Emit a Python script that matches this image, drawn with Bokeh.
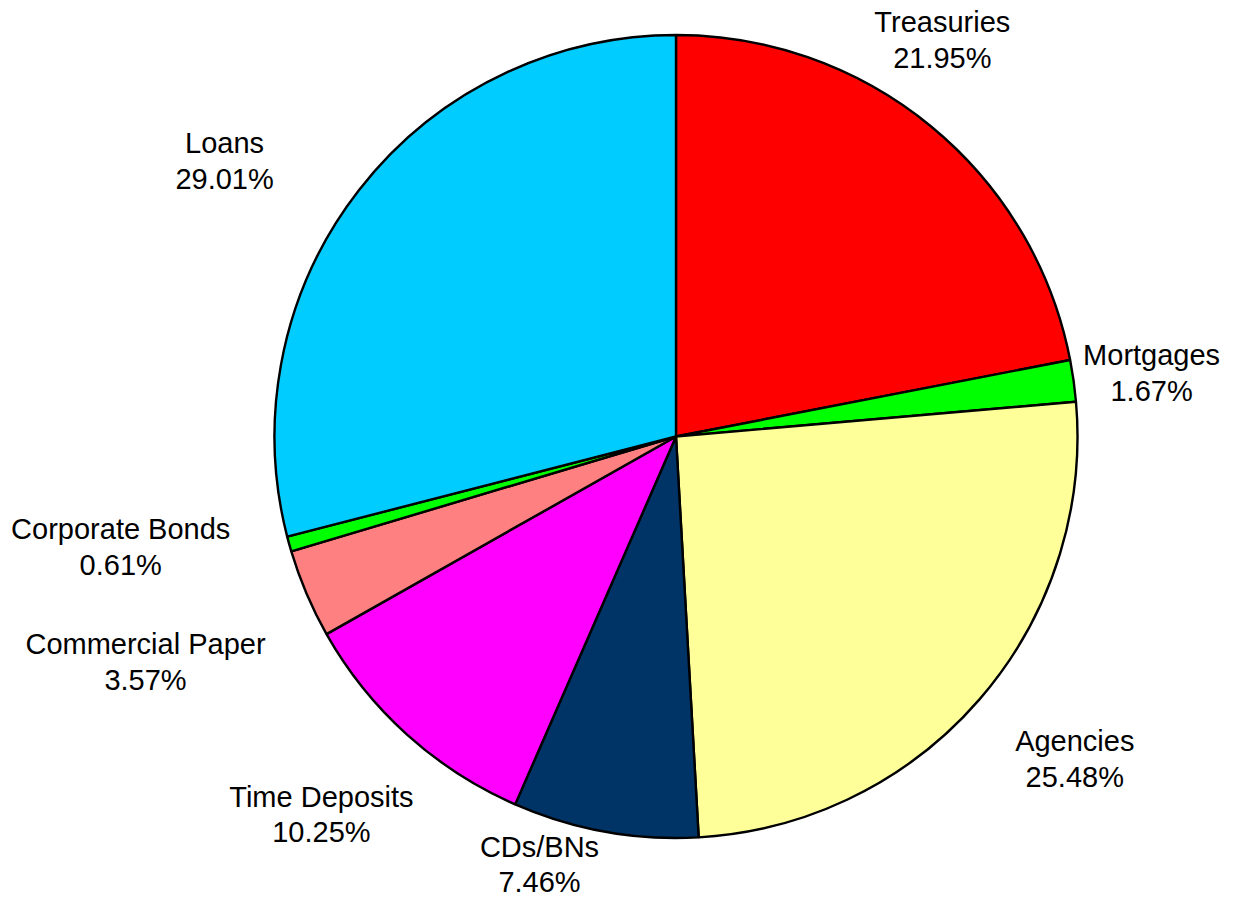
import numpy as np
from bokeh.plotting import figure
from bokeh.models import Range1d, ColumnDataSource
from bokeh.core.properties import value
from bokeh.embed import file_html
from bokeh.resources import INLINE

# ---- data ----
categories = ["Treasuries", "Mortgages", "Agencies", "CDs/BNs", "Time Deposits",
              "Commercial Paper", "Corporate Bonds", "Loans"]
shares = [21.95, 1.67, 25.48, 7.46, 10.25, 3.57, 0.61, 29.01]
colors = ["#FF0000", "#00FF00", "#FFFF99", "#003366", "#FF00FF",
          "#FF8080", "#00FF00", "#00CCFF"]

# ---- layout (label placement relative to each slice's mid-angle) ----
label_angle_nudge_deg = [5.6, -0.4, 1.9, -7.5, -1.1, 0.0, -4.3, 6.4]
label_radius_factor = [1.189, 1.195, 1.278, 1.119, 1.291, 1.436, 1.410, 1.317]

W, H = 1222, 901
cx, cy, R = 675.5, 917 - 436, 401.5

vals = np.array(shares, dtype=float)
frac = vals / vals.sum()
cum = np.concatenate([[0], np.cumsum(frac)])
start = np.deg2rad(90 - cum[:-1] * 360)
end = np.deg2rad(90 - cum[1:] * 360)
mid = (start + end) / 2

src = ColumnDataSource(dict(start=start, end=end, color=colors))

p = figure(width=W, height=H, x_range=Range1d(0, W), y_range=Range1d(917 - H, 917),
           output_backend="svg", toolbar_location=None, min_border=0)
p.axis.visible = False
p.grid.visible = False
p.outline_line_color = None
p.background_fill_color = "white"

p.wedge(x=cx, y=cy, radius=R, start_angle="start", end_angle="end", direction="clock",
        fill_color="color", line_color="black", line_width=2.4, source=src)

ang = mid + np.deg2rad(label_angle_nudge_deg)
rad = R * np.array(label_radius_factor)
lx = cx + rad * np.cos(ang)
ly = cy + rad * np.sin(ang)
texts = [f"{c}\n{v:.2f}%" for c, v in zip(categories, shares)]
lsrc = ColumnDataSource(dict(x=lx, y=ly, t=texts))
p.text(x="x", y="y", text="t", source=lsrc, text_align="center", text_baseline="middle",
       text_font=value("Liberation Sans"), text_font_size="29px", text_color="black",
       text_line_height=1.12)

open("out.html", "w").write(file_html(p, INLINE))
